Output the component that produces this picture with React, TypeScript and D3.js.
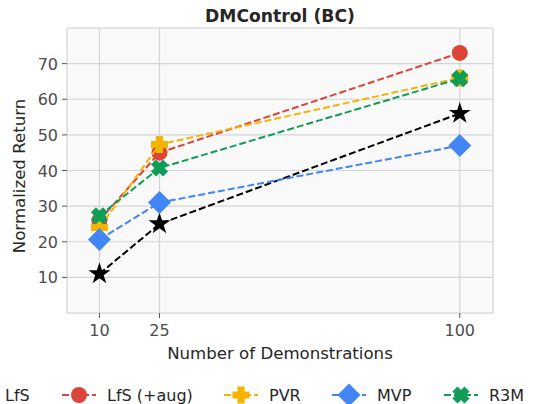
import React from "react";
import * as d3 from "d3";

const xValues = [10, 25, 100];
const xTicks = [10, 25, 100];
const yTicks = [10, 20, 30, 40, 50, 60, 70];
const seriesNames = ["LfS", "LfS (+aug)", "PVR", "MVP", "R3M"];
const lfs = [11, 25, 56];
const lfsAug = [26, 45, 73];
const pvr = [24, 47.3, 66];
const mvp = [20.6, 31, 47];
const r3m = [27.3, 40.7, 65.8];
const colors = ["#000000", "#DB4437", "#F4B400", "#4285F4", "#0F9D58"];
const markers = ["star", "circle", "plus", "diamond", "cross"];

const W = 542, H = 404;
const left = 67, right = 493, top = 28, bottom = 313;
const FONT = "DejaVu Sans, sans-serif";

function Marker({ type, x, y, color }: { type: string; x: number; y: number; color: string }) {
  if (type === "circle") return <circle cx={x} cy={y} r={8} fill={color} />;
  if (type === "diamond") {
    const s = 11.5;
    return <path d={`M${x},${y - s}L${x + s},${y}L${x},${y + s}L${x - s},${y}Z`} fill={color} />;
  }
  if (type === "star") {
    const p = d3.symbol(d3.symbolStar, 150)();
    return <path d={p as string} transform={`translate(${x},${y})`} fill={color} />;
  }
  if (type === "plus") {
    const a = 8.5, b = 3.6;
    return (
      <path
        d={`M${x - b},${y - a}H${x + b}V${y - b}H${x + a}V${y + b}H${x + b}V${y + a}H${x - b}V${y + b}H${x - a}V${y - b}H${x - b}Z`}
        fill={color}
      />
    );
  }
  const a = 8.5, b = 3.6;
  return (
    <path
      d={`M${x - b},${y - a}H${x + b}V${y - b}H${x + a}V${y + b}H${x + b}V${y + a}H${x - b}V${y + b}H${x - a}V${y - b}H${x - b}Z`}
      fill={color}
      transform={`rotate(45,${x},${y})`}
    />
  );
}

export default function App() {
  const x = d3.scaleLinear().domain([1.9, 108.3]).range([left, right]);
  const y = d3.scaleLinear().domain([0, 80]).range([bottom, top]);
  const data = [lfs, lfsAug, pvr, mvp, r3m];
  const line = d3
    .line<number>()
    .x((_, i) => x(xValues[i]))
    .y((d) => y(d));

  const legendX = [-70, 79, 241, 349, 461];

  return (
    <svg width={W} height={H} style={{ position: "absolute", left: 0, top: 0 }} fontFamily={FONT}>
      <rect x={0} y={0} width={W} height={H} fill="#ffffff" />
      <rect x={left} y={top} width={right - left} height={bottom - top} fill="#f9f9f9" />
      {xTicks.map((t) => (
        <line key={"gx" + t} x1={x(t)} x2={x(t)} y1={top} y2={bottom} stroke="#d4d4d4" strokeWidth={1.2} />
      ))}
      {yTicks.map((t) => (
        <line key={"gy" + t} x1={left} x2={right} y1={y(t)} y2={y(t)} stroke="#d4d4d4" strokeWidth={1.2} />
      ))}
      <rect x={left} y={top} width={right - left} height={bottom - top} fill="none" stroke="#dcdcdc" strokeWidth={1.5} />
      {xTicks.map((t) => (
        <g key={"tx" + t}>
          <line x1={x(t)} x2={x(t)} y1={bottom} y2={bottom + 5} stroke="#555" strokeWidth={1} />
          <text x={x(t)} y={bottom + 23} textAnchor="middle" fontSize={16} fill="#4d4d4d">
            {t}
          </text>
        </g>
      ))}
      {yTicks.map((t) => (
        <g key={"ty" + t}>
          <line x1={left - 5} x2={left} y1={y(t)} y2={y(t)} stroke="#555" strokeWidth={1} />
          <text x={left - 9} y={y(t) + 6} textAnchor="end" fontSize={16} fill="#4d4d4d">
            {t}
          </text>
        </g>
      ))}
      <text x={(left + right) / 2} y={22} textAnchor="middle" fontSize={17.2} fontWeight="bold" fill="#262626">
        DMControl (BC)
      </text>
      <text x={(left + right) / 2} y={359} textAnchor="middle" fontSize={16.6} fill="#262626">
        Number of Demonstrations
      </text>
      <text
        transform={`translate(24.5,176) rotate(-90)`}
        textAnchor="middle"
        fontSize={16.6}
        fill="#262626"
      >
        Normalized Return
      </text>
      {data.map((d, i) => (
        <g key={"s" + i}>
          <path d={line(d) as string} fill="none" stroke={colors[i]} strokeWidth={2} strokeDasharray="7,3" />
          {d.map((v, j) => (
            <Marker key={j} type={markers[i]} x={x(xValues[j])} y={y(v)} color={colors[i]} />
          ))}
        </g>
      ))}
      {seriesNames.map((n, i) => (
        <g key={"l" + i}>
          <line x1={legendX[i] - 17} x2={legendX[i] + 17} y1={395} y2={395} stroke={colors[i]} strokeWidth={2} strokeDasharray="7,3" />
          <Marker type={markers[i]} x={legendX[i]} y={395} color={colors[i]} />
          <text x={i === 0 ? 5 : legendX[i] + 28} y={401} fontSize={16} fill="#262626">
            {n}
          </text>
        </g>
      ))}
    </svg>
  );
}
